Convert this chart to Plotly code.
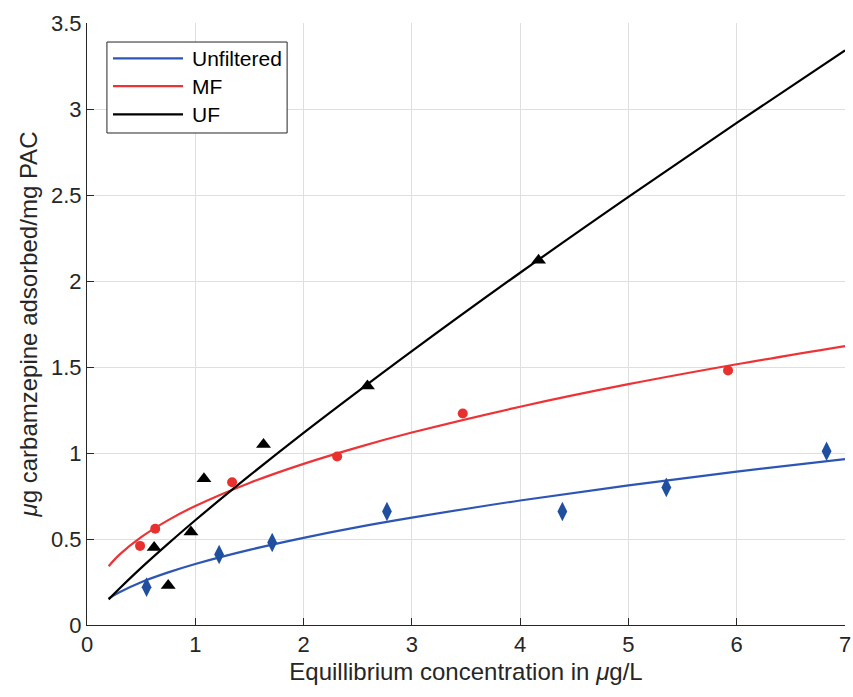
import plotly.graph_objects as go

# Measured adsorption data (equilibrium concentration in ug/L, loading in ug/mg PAC)
unf_x = [0.55, 1.22, 1.71, 2.77, 4.39, 5.35, 6.83]
unf_y = [0.22, 0.41, 0.48, 0.66, 0.66, 0.80, 1.01]

mf_x = [0.49, 0.63, 1.34, 2.31, 3.47, 5.92]
mf_y = [0.46, 0.56, 0.83, 0.98, 1.23, 1.48]

uf_x = [0.62, 0.75, 0.96, 1.08, 1.63, 2.59, 4.17]
uf_y = [0.45, 0.23, 0.54, 0.85, 1.05, 1.39, 2.12]

# Fitted isotherm curves
fit_x = [0.2, 0.3, 0.5, 0.75, 1, 1.5, 2, 2.5, 3, 4, 5, 6, 7]
fit_unf = [0.155, 0.191, 0.249, 0.306, 0.355, 0.437, 0.507, 0.569, 0.624, 0.724, 0.812, 0.892, 0.965]
fit_mf = [0.342, 0.409, 0.511, 0.610, 0.692, 0.826, 0.937, 1.033, 1.119, 1.269, 1.400, 1.516, 1.622]
fit_uf = [0.149, 0.212, 0.332, 0.473, 0.609, 0.868, 1.117, 1.357, 1.592, 2.048, 2.489, 2.919, 3.341]

series_names = ["Unfiltered", "MF", "UF"]
line_colors = ["#2d56b4", "#ee3336", "#000000"]
marker_colors = ["#1f4f9e", "#e8302f", "#000000"]
marker_symbols = ["diamond-tall", "circle", "triangle-up"]
marker_sizes = [14, 10, 13]

FONT = "Liberation Sans, Arial, Helvetica, sans-serif"

fig = go.Figure()

for fx, fy, col in zip([fit_x] * 3, [fit_unf, fit_mf, fit_uf], line_colors):
    fig.add_trace(go.Scatter(x=fx, y=fy, mode="lines", line=dict(color=col, width=2.2, shape="spline"),
                             showlegend=False, hoverinfo="skip"))

for dx, dy, col, sym, sz in zip([unf_x, mf_x, uf_x], [unf_y, mf_y, uf_y],
                                marker_colors, marker_symbols, marker_sizes):
    fig.add_trace(go.Scatter(x=dx, y=dy, mode="markers",
                             marker=dict(color=col, symbol=sym, size=sz, line=dict(width=0)),
                             showlegend=False))

axis_common = dict(
    showgrid=True, gridcolor="#dfdfdf", gridwidth=1,
    showline=True, linecolor="#262626", linewidth=1,
    ticks="inside", ticklen=7, tickcolor="#262626",
    tickfont=dict(family=FONT, size=22, color="#262626"),
    ticklabeloverflow="allow",
    zeroline=False, mirror=False,
)

fig.update_xaxes(range=[0, 7], dtick=1, tick0=0,
                 title=dict(text="Equillibrium concentration in <i>μ</i>g/L",
                            font=dict(family=FONT, size=24, color="#262626"), standoff=6),
                 **axis_common)
fig.update_yaxes(range=[0, 3.5], dtick=0.5, tick0=0,
                 title=dict(text="<i>μ</i>g carbamzepine adsorbed/mg PAC",
                            font=dict(family=FONT, size=24, color="#262626"), standoff=6),
                 **axis_common)

# Legend box drawn in paper coordinates
shapes = [dict(type="rect", xref="paper", yref="paper", x0=0.0263, x1=0.2640, y0=0.8173, y1=0.9684,
               line=dict(color="#262626", width=1), fillcolor="white", layer="above")]
row_y = [0.9414, 0.8953, 0.8483]
annotations = []
for name, col, ry in zip(series_names, line_colors, row_y):
    shapes.append(dict(type="line", xref="paper", yref="paper", x0=0.0343, x1=0.1267, y0=ry, y1=ry,
                       line=dict(color=col, width=2.2), layer="above"))
    annotations.append(dict(xref="paper", yref="paper", x=0.1357, y=ry, text=name, showarrow=False,
                            xanchor="left", yanchor="middle",
                            font=dict(family=FONT, size=21, color="#000000")))

fig.update_layout(
    width=853, height=697,
    margin=dict(l=87, r=8, t=23, b=72, autoexpand=False),
    paper_bgcolor="white", plot_bgcolor="white",
    shapes=shapes, annotations=annotations,
    showlegend=False,
)

fig.write_html("out.html")
